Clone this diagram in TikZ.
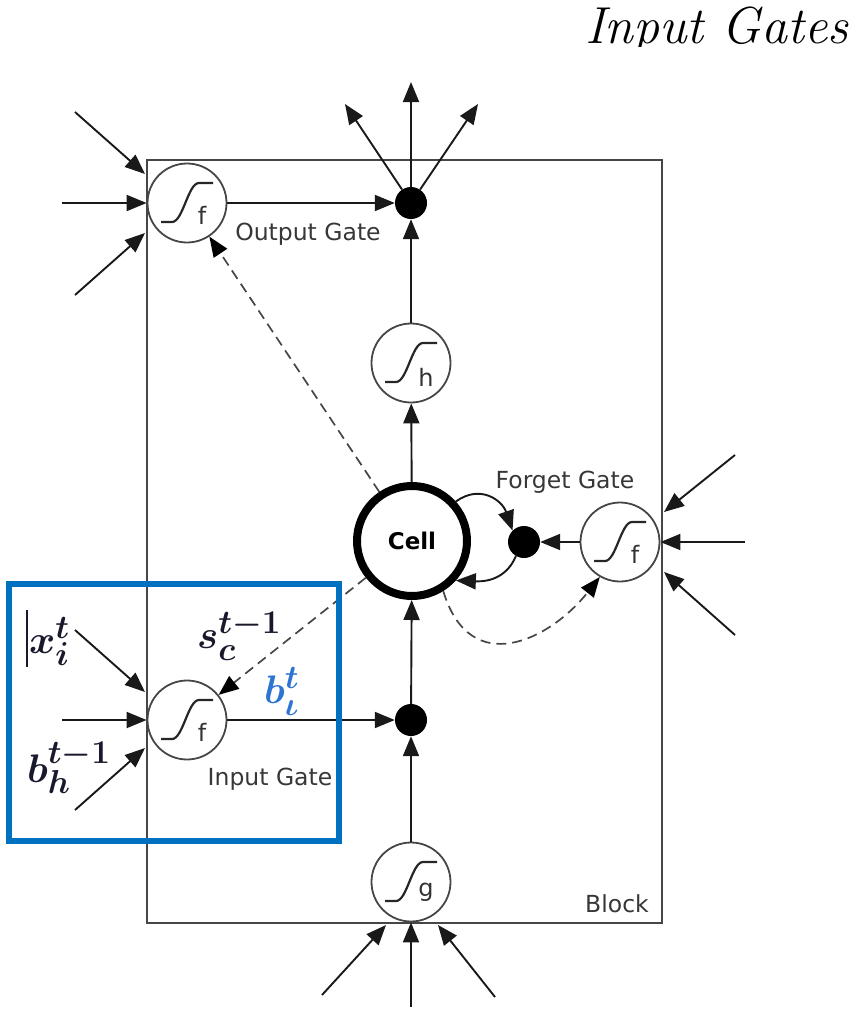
\documentclass[tikz,border=0pt]{standalone}
\usepackage{fontspec}
\usepackage{graphicx}
\newfontfamily\dejavu{DejaVu Sans}
\usetikzlibrary{arrows.meta}
\definecolor{edgegray}{RGB}{70,70,70}
\definecolor{boxblue}{RGB}{0,112,192}
\definecolor{labblue}{RGB}{46,117,210}
\definecolor{mathdark}{RGB}{25,25,45}
\definecolor{labgray}{RGB}{55,55,55}
\newcommand\sigcurve[1]{\draw[sigline] ([shift={(-26,19)}]#1.center) -- ++(11,0) .. controls +(11,0) and +(-11,0) .. ++(27,-39) -- ++(14,0);}
\newcommand\bigmath[1]{\scalebox{1.6}{\fontsize{24.88}{28}\selectfont\boldmath $#1$}}
\begin{document}
\begin{tikzpicture}[x=1pt,y=-1pt,
  arr/.style={-{Triangle[length=20pt,width=16pt]}, line width=1.9pt, draw=black!90},
  dsh/.style={-{Triangle[length=20pt,width=16pt,color=black]}, dash pattern=on 10pt off 6pt, line width=1.7pt, draw=edgegray},
  gate/.style={circle, draw=edgegray, line width=1.8pt, minimum size=79pt, inner sep=0pt},
  dot/.style={circle, fill=black, minimum size=32pt, inner sep=0pt},
  cellst/.style={circle, draw=black, line width=8pt, minimum size=110pt, inner sep=0pt, font=\dejavu\bfseries\fontsize{23}{26}\selectfont},
  letter/.style={inner sep=0pt, font=\dejavu\fontsize{24}{26}\selectfont, text=black!80},
  sigline/.style={line width=2.2pt, draw=black!85},
  lab/.style={inner sep=0pt, anchor=base, font=\dejavu\fontsize{23.5}{26}\selectfont, text=labgray},
  mlab/.style={inner sep=0pt, anchor=base west, text=mathdark},
  blockline/.style={line width=2pt, draw=edgegray}]
\useasboundingbox (0,0) rectangle (858,1009);
% title
\begin{scope}
\clip (540,0) rectangle (858,46);
\node[anchor=base west, inner sep=0pt, font=\fontsize{52}{56}\selectfont\itshape] (title) at (585,43) {Input Gates};
\end{scope}
% block
\draw[blockline] (147,160) rectangle (662,923);
% nodes
\node[gate] (og) at (187,203) {};
\node[dot] (odot) at (411,203) {};
\node[gate] (hg) at (411,363) {};
\node[cellst] (cell) at (412,541) {Cell};
\node[dot] (fdot) at (524,542) {};
\node[gate] (fg) at (620,542) {};
\node[dot] (idot) at (411,720) {};
\node[gate] (ig) at (187,720) {};
\node[gate] (gg) at (411,882) {};
% sigmoid glyphs
\sigcurve{og}\sigcurve{hg}\sigcurve{fg}\sigcurve{ig}\sigcurve{gg}
\node[letter] (ogl) at ([shift={(15,12)}]og.center) {f};
\node[letter] (hgl) at ([shift={(15,14)}]hg.center) {h};
\node[letter] (fgl) at ([shift={(15,12)}]fg.center) {f};
\node[letter] (igl) at ([shift={(15,12)}]ig.center) {f};
\node[letter] (ggl) at ([shift={(15,10)}]gg.center) {g};
% labels
\node[lab] (outlab) at (308,240) {Output Gate};
\node[lab] (forlab) at (565,488) {Forget Gate};
\node[lab] (inlab) at (270,785) {Input Gate};
\node[lab] (blklab) at (617,912) {Block};
% free end coordinates
\coordinate (outU) at (411,82);
\coordinate (outL) at (345,104);
\coordinate (outR) at (478,104);
\coordinate (og1s) at (75,112);  \coordinate (og1e) at (145,174);
\coordinate (og2s) at (62,203);
\coordinate (og3s) at (75,295);  \coordinate (og3e) at (145,233);
\coordinate (ig1s) at (75,630);  \coordinate (ig1e) at (145,692);
\coordinate (ig2s) at (62,720);
\coordinate (ig3s) at (75,810);  \coordinate (ig3e) at (145,748);
\coordinate (fg1s) at (735,455); \coordinate (fg1e) at (664,512);
\coordinate (fg2s) at (745,542);
\coordinate (fg3s) at (735,635); \coordinate (fg3e) at (664,572);
\coordinate (gg1s) at (322,995); \coordinate (gg1e) at (386,925);
\coordinate (gg2s) at (411,1007);
\coordinate (gg3s) at (495,997); \coordinate (gg3e) at (438,925);
% connectors
\draw[arr] (og) -- (odot);
\draw[arr] (odot) -- (outU);
\draw[arr] (odot) -- (outL);
\draw[arr] (odot) -- (outR);
\draw[arr] (hg) -- (odot);
\draw[arr] (cell) -- (hg);
\draw[arr] (idot) -- (cell);
\draw[arr] (gg) -- (idot);
\draw[arr] (ig) -- (idot);
\draw[arr] (fg) -- (fdot);
\draw[arr] (cell.42) .. controls (480,484) and (502,500) .. (fdot.135);
\draw[arr] (fdot.240) .. controls (508,575) and (492,582) .. (cell.-42);
\draw[dsh] (cell) -- (og);
\draw[dsh] (cell) -- (ig);
\draw[dsh] (cell.-58) .. controls (470,680) and (550,640) .. (fg.240);
% external inputs
\draw[arr] (og1s) -- (og1e);
\draw[arr] (og2s) -- (og);
\draw[arr] (og3s) -- (og3e);
\draw[arr] (ig1s) -- (ig1e);
\draw[arr] (ig2s) -- (ig);
\draw[arr] (ig3s) -- (ig3e);
\draw[arr] (fg1s) -- (fg1e);
\draw[arr] (fg2s) -- (fg);
\draw[arr] (fg3s) -- (fg3e);
\draw[arr] (gg1s) -- (gg1e);
\draw[arr] (gg2s) -- (gg);
\draw[arr] (gg3s) -- (gg3e);
% math labels
\draw[line width=1.5pt, draw=mathdark] (27,610) -- (27,667);
\node[mlab] (xl) at (29,653) {\bigmath{x_i^t}};
\node[mlab] (sl) at (197,648) {\bigmath{s_c^{t-1}}};
\node[mlab] (bhl) at (27,782) {\bigmath{b_h^{t-1}}};
\node[mlab, text=labblue] (bil) at (264,703) {\bigmath{b_\iota^t}};
% highlight box
\draw[line width=6pt, draw=boxblue] (9,584) rectangle (339,841);
\end{tikzpicture}
\end{document}
